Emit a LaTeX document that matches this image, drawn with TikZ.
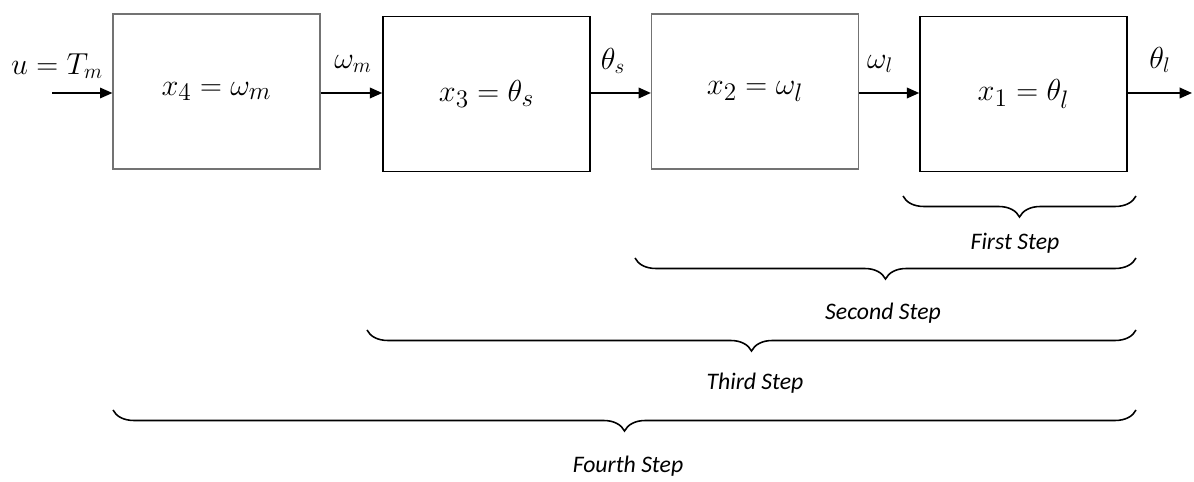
\documentclass[tikz,border=0pt]{standalone}
\usepackage{fontspec}
\newfontfamily\stepfont{Carlito}
\usetikzlibrary{arrows.meta,decorations.pathreplacing}
\begin{document}
\begin{tikzpicture}[x=0.02cm,y=-0.02cm,
  blk/.style={draw, line width=0.9pt, minimum width=4.14cm, minimum height=3.1cm, inner sep=0pt, font=\fontsize{19}{22}\selectfont},
  blkgray/.style={blk, draw=black!55, line width=0.7pt},
  sig/.style={-{Triangle[length=7pt,width=6pt]}, line width=1pt},
  lab/.style={font=\fontsize{18}{21}\selectfont, inner sep=0pt},
  brc/.style={decorate, decoration={brace, amplitude=0.42cm}, line width=0.9pt},
  steplab/.style={font=\stepfont\itshape\fontsize{13.5}{15}\selectfont, inner sep=0pt}]
\useasboundingbox (0,0) rectangle (1194,482);
\node[blkgray] (b4) at (216.5,91.5) {$x_4=\omega_m$};
\node[blk] (b3) at (486.5,94) {$x_3=\theta_s$};
\node[blkgray] (b2) at (755,91.5) {$x_2=\omega_l$};
\node[blk] (b1) at (1023.5,94) {$x_1=\theta_l$};
\coordinate (in) at (52,93);
\coordinate (out) at (1192,93);
\draw[sig, line width=0.7pt] (in) -- (b4.west |- in);
\draw[sig] (b4.east |- 0,93) -- (b3.west |- 0,93);
\draw[sig] (b3.east |- 0,93) -- (b2.west |- 0,93);
\draw[sig] (b2.east |- 0,93) -- (b1.west |- 0,93);
\draw[sig] (b1.east |- out) -- (out);
\node[lab] (lu) at (57,66) {$u=T_m$};
\node[lab] (lwm) at (353,64) {$\omega_m$};
\node[lab] (lts) at (613,61) {$\theta_s$};
\node[lab] (lwl) at (880,64) {$\omega_l$};
\node[lab] (ltl) at (1160,60) {$\theta_l$};
% braces
\coordinate (s1a) at (1136,196); \coordinate (s1b) at (903,196);
\coordinate (s2a) at (1136,258); \coordinate (s2b) at (635,258);
\coordinate (s3a) at (1136,330); \coordinate (s3b) at (367,330);
\coordinate (s4a) at (1136,410); \coordinate (s4b) at (113,410);
\draw[brc] (s1a) -- (s1b);
\draw[brc] (s2a) -- (s2b);
\draw[brc] (s3a) -- (s3b);
\draw[brc] (s4a) -- (s4b);
\node[steplab] (t1) at (1015,243) {First Step};
\node[steplab] (t2) at (883,313) {Second Step};
\node[steplab] (t3) at (755,383) {Third Step};
\node[steplab] (t4) at (628,466) {Fourth Step};
\end{tikzpicture}
\end{document}
